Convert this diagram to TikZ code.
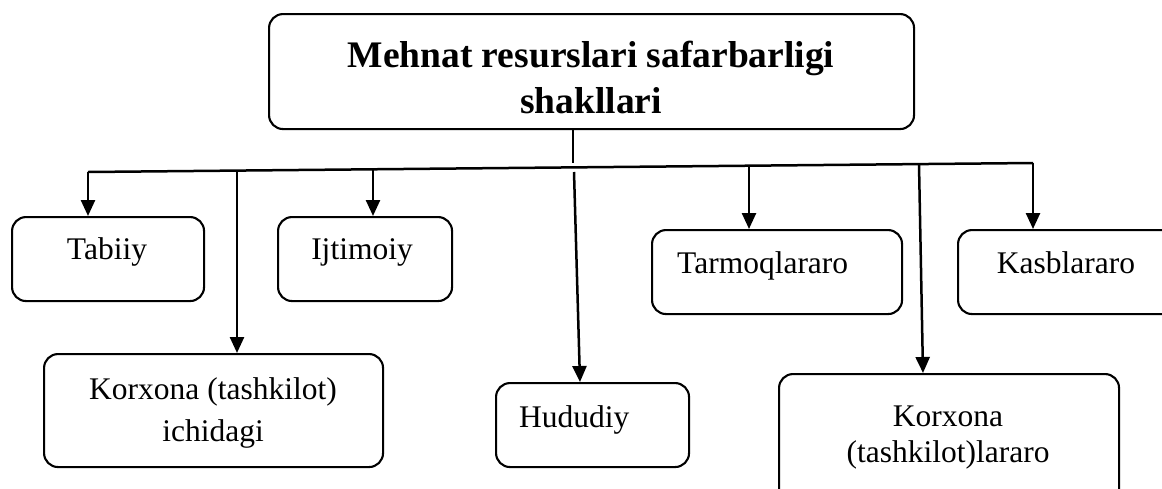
\documentclass[tikz,border=0pt]{standalone}
\usepackage{fontspec}
\setmainfont{Liberation Serif}
\usetikzlibrary{arrows.meta}
\begin{document}
\begin{tikzpicture}[x=1pt,y=-1pt,
  box/.style={draw, line width=2.1pt, rounded corners=14pt, anchor=north west, inner sep=0pt},
  lbl/.style={anchor=base, inner sep=0pt, font=\fontsize{31.5}{36}\selectfont},
  ln/.style={line width=2.5pt},
  arr/.style={line width=2.5pt, -{Triangle[width=14pt,length=16pt]}}]
\useasboundingbox (0,0) rectangle (1162,488);
% boxes
\node[box, minimum width=645pt, minimum height=115pt] (top) at (268,13) {};
\node[box, minimum width=192pt, minimum height=84pt] (tabiiy) at (11,216) {};
\node[box, minimum width=174pt, minimum height=84pt] (ijtimoiy) at (277,216) {};
\node[box, minimum width=339pt, minimum height=113pt] (ichidagi) at (43,353) {};
\node[box, minimum width=193pt, minimum height=84pt] (hududiy) at (495,382) {};
\node[box, minimum width=250pt, minimum height=84pt] (tarmoq) at (651,229) {};
\node[box, minimum width=230pt, minimum height=84pt] (kasb) at (957,229) {};
\node[box, minimum width=340pt, minimum height=130pt] (lararo) at (778,373) {};
% texts
\node[lbl, font=\fontsize{37.5}{44}\selectfont\bfseries] (t1) at (591,67) {Mehnat resurslari safarbarligi};
\node[lbl, font=\fontsize{37.5}{44}\selectfont\bfseries] (t2) at (591,113) {shakllari};
\node[lbl] (tx1) at (107,259) {Tabiiy};
\node[lbl] (tx2) at (362,259) {Ijtimoiy};
\node[lbl] (tx3) at (213,399) {Korxona (tashkilot)};
\node[lbl] (tx4) at (213,441) {ichidagi};
\node[lbl, anchor=base west] (tx5) at (519,427) {Hududiy};
\node[lbl, anchor=base west] (tx6) at (677,273) {Tarmoqlararo};
\node[lbl] (tx7) at (1066,273) {Kasblararo};
\node[lbl] (tx8) at (948,426) {Korxona};
\node[lbl] (tx9) at (948,462) {(tashkilot)lararo};
% bus line
\coordinate (h1) at (88,172);
\coordinate (h2) at (237,170.6);
\coordinate (h3) at (373,169.3);
\coordinate (h4) at (573,167.4);
\coordinate (h5) at (749,165.7);
\coordinate (h6) at (919,164.1);
\coordinate (h7) at (1033,163);
\coordinate (s) at (573,128.5);
\coordinate (g1) at (573,163);
\coordinate (g2) at (574,172);
\draw[ln] (h1) -- (h7);
\draw[ln] (s) -- (g1);
% arrows
\draw[arr] (h1) -- (h1 |- tabiiy.north);
\draw[arr] (h2) -- (h2 |- ichidagi.north);
\draw[arr] (h3) -- (h3 |- ijtimoiy.north);
\draw[arr] (g2) -- (580,382) coordinate (hd);
\draw[arr] (h5) -- (h5 |- tarmoq.north);
\draw[arr] (h6) -- (923,373) coordinate (lr);
\draw[arr] (h7) -- (h7 |- kasb.north);
\end{tikzpicture}
\end{document}
